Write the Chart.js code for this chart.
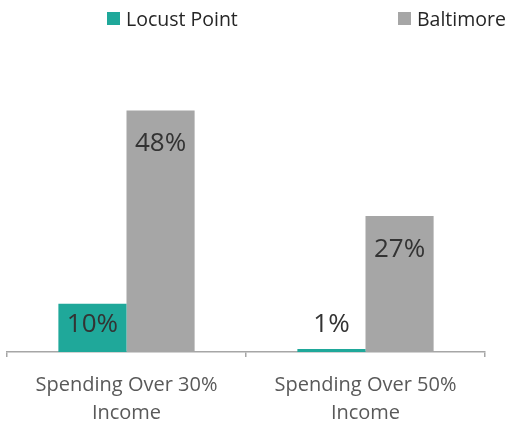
<!DOCTYPE html>
<html lang="en">
<head>
<meta charset="UTF-8">
<title>Housing cost burden</title>
<script src="https://cdn.jsdelivr.net/npm/chart.js"></script>
<style>
  body { margin: 0; background: #fff; font-family: "Open Sans", sans-serif; }
  #wrap { position: relative; width: 508px; height: 428px; }
  .leg { position: absolute; top: 5px; font-size: 19.5px; color: #262626; display: flex; align-items: center; white-space: nowrap; }
  .leg span.box { display: inline-block; width: 13px; height: 13px; margin-right: 6px; }
</style>
</head>
<body>
<div id="wrap">
  <div class="leg" style="left:107px"><span class="box" style="background:#1fa89a"></span>Locust Point</div>
  <div class="leg" style="left:398px"><span class="box" style="background:#a6a6a6"></span>Baltimore</div>
  <canvas id="c" width="508" height="428"></canvas>
</div>
<script>
const categories = [["Spending Over 30%", "Income"], ["Spending Over 50%", "Income"]];
const locustPoint = [9.6, 0.6];
const baltimore = [48, 27];

const barLabels = {
  id: "barLabels",
  afterDatasetsDraw(chart) {
    const ctx = chart.ctx;
    ctx.save();
    ctx.font = "26px 'Open Sans'";
    ctx.fillStyle = "#333333";
    ctx.textAlign = "center";
    ctx.textBaseline = "middle";
    chart.data.datasets.forEach((ds, i) => {
      chart.getDatasetMeta(i).data.forEach((bar, j) => {
        const h = bar.base - bar.y;
        let y;
        if (h > 80) y = bar.y + 33;
        else if (h > 30) y = bar.y + 21;
        else y = bar.y - 24;
        ctx.fillText(Math.round(ds.data[j]) + "%", bar.x, y);
      });
    });
    ctx.restore();
  }
};

new Chart(document.getElementById("c"), {
  type: "bar",
  data: {
    labels: categories,
    datasets: [
      { label: "Locust Point", data: locustPoint, backgroundColor: "#1fa89a" },
      { label: "Baltimore", data: baltimore, backgroundColor: "#a6a6a6" }
    ]
  },
  options: {
    responsive: false,
    animation: false,
    layout: { padding: { top: 50, left: 7, right: 23, bottom: 0 } },
    plugins: { legend: { display: false }, tooltip: { enabled: false } },
    datasets: { bar: { barPercentage: 1, categoryPercentage: 0.57 } },
    scales: {
      x: {
        afterFit(scale) { scale.height = 76; },
        grid: { display: true, drawOnChartArea: false, drawTicks: true, tickLength: 5, color: "#a6a6a6", lineWidth: 1.5, offset: true },
        border: { display: true, color: "#a6a6a6", width: 1.5 },
        ticks: { color: "#595959", font: { family: "Open Sans", size: 20, lineHeight: 1.4 }, padding: 14 }
      },
      y: { display: false, min: 0, max: 60 }
    }
  },
  plugins: [barLabels]
});
</script>
</body>
</html>
